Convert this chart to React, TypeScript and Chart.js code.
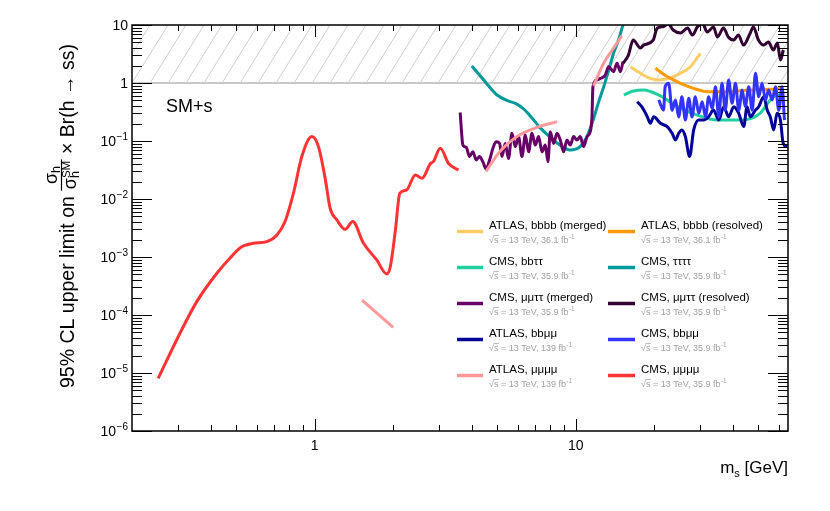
import { useEffect, useRef } from "react";
import { Chart, registerables } from "chart.js";

Chart.register(...registerables);

type P = [number, number];

const FONT = '"Liberation Sans", Arial, Helvetica, sans-serif';

// ---- axis ranges & tick labels ----
const X_MIN = 0.2;
const X_MAX = 65;
const Y_MIN = 1e-6;
const Y_MAX = 10;
const yTickExponents = [-6, -5, -4, -3, -2, -1, 0, 1];
const xTickValues = [1, 10];
const xTickLabels = ["1", "10"];

// ---- series (m_s [GeV], limit) ----
const atlasBbbbMerged: P[] = [
  [16.2, 1.91], [17.7, 1.47], [19.3, 1.2], [20.8, 1.13], [22.7, 1.2], [25.2, 1.47], [27.5, 1.91], [30.0, 3.25],
];
const atlasBbbbResolved: P[] = [
  [20.2, 1.79], [22.4, 1.29], [25.2, 0.99], [28.3, 0.81], [31.8, 0.71], [38.0, 0.71], [46.6, 0.76], [55.6, 0.78], [61.7, 0.81],
];
const cmsBbtautau: P[] = [
  [15.3, 0.62], [16.5, 0.72], [18.2, 0.76], [21.1, 0.6], [24.4, 0.4], [29.2, 0.28], [34.8, 0.23], [42.9, 0.23],
  [50.8, 0.3], [55.6, 0.51], [59.0, 0.62], [61.7, 0.62],
];
const cms4tau: P[] = [
  [4.0, 1.96], [4.3, 1.35], [4.68, 0.85], [5.0, 0.62], [5.45, 0.5], [5.9, 0.44], [6.3, 0.36], [6.7, 0.27],
  [7.3, 0.17], [8.0, 0.115], [8.7, 0.085], [9.5, 0.07], [10.4, 0.08], [11.05, 0.12], [11.7, 0.24], [12.2, 0.45],
  [12.8, 0.86], [13.4, 1.7], [13.96, 3.25], [14.6, 5.6], [15.1, 9.3], [15.4, 12],
];
const cmsMuMuTauTauMerged: P[] = [
  [3.61, 0.31], [3.70, 0.085], [3.81, 0.078], [3.92, 0.054], [4.04, 0.065], [4.16, 0.047], [4.28, 0.054],
  [4.41, 0.044], [4.54, 0.033], [4.68, 0.047], [4.82, 0.075], [4.96, 0.097], [5.11, 0.091], [5.22, 0.054],
  [5.37, 0.091], [5.53, 0.05], [5.70, 0.136], [5.87, 0.08], [6.04, 0.119], [6.23, 0.054], [6.41, 0.127],
  [6.60, 0.065], [6.80, 0.136], [7.00, 0.085], [7.21, 0.119], [7.43, 0.065], [7.65, 0.085], [7.83, 0.044],
  [7.99, 0.145], [8.23, 0.091], [8.48, 0.136], [8.73, 0.104], [8.99, 0.065], [9.26, 0.104], [9.53, 0.085],
  [9.82, 0.119], [10.11, 0.104], [10.41, 0.119], [10.72, 0.08], [11.05, 0.119], [11.37, 0.145], [11.54, 0.26],
  [11.64, 0.86], [12.06, 1.13], [12.42, 1.2], [12.98, 1.37], [13.37, 1.9], [13.97, 1.57], [14.39, 2.2],
  [14.82, 1.57], [15.18, 2.33],
];
const cmsMuMuTauTauResolved: P[] = [
  [15.2, 2.2], [15.9, 3.0], [16.6, 5.5], [17.7, 4.0], [18.2, 4.5], [19.8, 5.5], [20.5, 8.8], [21.7, 9.4],
  [22.6, 10.5], [23.6, 8.2], [25.2, 7.3], [26.8, 8.9], [28.0, 6.7], [29.2, 9.2], [30.6, 10.5], [31.9, 7.6],
  [33.7, 9.2], [34.9, 6.2], [36.8, 8.9], [38.4, 6.2], [40.2, 5.5], [42.0, 6.7], [43.9, 4.5], [46.6, 7.3],
  [47.9, 9.2], [50.1, 5.5], [52.3, 4.5], [54.7, 5.1], [57.1, 3.7], [59.2, 4.9], [60.8, 2.5], [62.4, 3.7],
];
const atlasBbmumu: P[] = [
  [17.2, 0.476], [17.9, 0.39], [18.8, 0.262], [19.3, 0.202], [19.9, 0.262], [21.1, 0.202], [22.4, 0.177],
  [23.4, 0.136], [24.1, 0.104], [24.8, 0.136], [25.5, 0.155], [26.3, 0.119], [27.3, 0.054], [28.3, 0.155],
  [29.6, 0.23], [30.9, 0.23], [32.3, 0.262], [33.7, 0.342], [35.3, 0.23], [36.9, 0.39], [38.5, 0.262],
  [40.3, 0.39], [42.1, 0.3], [44.0, 0.177], [45.3, 0.39], [46.6, 0.262], [48.8, 0.342], [50.2, 0.39],
  [52.5, 0.58], [54.1, 0.342], [55.6, 0.262], [57.3, 0.155], [59.0, 0.3], [60.8, 0.23], [62.3, 0.091], [64.5, 0.08],
];
const cmsBbmumu: P[] = [
  [20.8, 0.51], [21.7, 0.34], [22.0, 0.86], [22.7, 0.99], [23.4, 0.34], [24.1, 0.51], [24.8, 0.26], [25.5, 0.58],
  [26.3, 0.23], [27.1, 0.545], [27.9, 0.26], [28.7, 0.58], [29.6, 0.3], [30.5, 0.476], [31.4, 0.26], [32.3, 0.58],
  [33.3, 0.366], [34.3, 0.86], [35.3, 0.26], [36.3, 0.99], [37.4, 0.34], [38.5, 1.13], [39.7, 0.447], [40.9, 0.99],
  [42.1, 0.34], [43.4, 0.76], [44.6, 0.39], [46.0, 0.86], [47.4, 0.34], [48.8, 1.47], [50.2, 0.58], [51.7, 0.99],
  [53.3, 0.51], [54.8, 0.76], [56.5, 0.51], [58.2, 0.86], [59.9, 0.34], [61.7, 0.86], [63.0, 0.23],
];
const atlas4muLow: P[] = [[1.52, 1.8e-4], [2.0, 6.1e-5]];
const atlas4muMid: P[] = [[4.54, 0.03], [5.11, 0.065], [5.95, 0.119], [6.9, 0.164], [8.48, 0.216]];
const atlas4muHigh: P[] = [[11.7, 0.89], [12.8, 2.2], [13.8, 3.7], [15.0, 6.5]];
const cms4mu: P[] = [
  [0.252, 8.1e-6], [0.305, 4.8e-5], [0.354, 1.7e-4], [0.422, 5.2e-4], [0.474, 9.5e-4], [0.526, 1.5e-3],
  [0.583, 1.72e-3], [0.656, 1.84e-3], [0.718, 2.4e-3], [0.771, 4.1e-3], [0.83, 0.0125], [0.894, 0.054],
  [0.977, 0.119], [1.035, 0.08], [1.098, 0.0227], [1.148, 0.0069], [1.22, 4.3e-3], [1.31, 3.0e-3],
  [1.40, 4.1e-3], [1.54, 1.72e-3], [1.73, 8.9e-4], [1.89, 5.1e-4], [1.95, 6.8e-4], [2.04, 2.9e-3],
  [2.12, 0.0125], [2.25, 0.0143], [2.43, 0.026], [2.58, 0.0227], [2.78, 0.041], [2.85, 0.044],
  [3.03, 0.075], [3.26, 0.041], [3.56, 0.0316],
];

// ---- legend ----
const legendNames = [
  "ATLAS, bbbb (merged)", "ATLAS, bbbb (resolved)",
  "CMS, bb\u03c4\u03c4", "CMS, \u03c4\u03c4\u03c4\u03c4",
  "CMS, \u03bc\u03bc\u03c4\u03c4 (merged)", "CMS, \u03bc\u03bc\u03c4\u03c4 (resolved)",
  "ATLAS, bb\u03bc\u03bc", "CMS, bb\u03bc\u03bc",
  "ATLAS, \u03bc\u03bc\u03bc\u03bc", "CMS, \u03bc\u03bc\u03bc\u03bc",
];
const legendLumi = ["36.1", "36.1", "35.9", "35.9", "35.9", "35.9", "139", "35.9", "139", "35.9"];
const colors = [
  "#ffcc66", "#ff9900", "#1fd09e", "#009999", "#660066", "#330033", "#000099", "#3333ff", "#ff9999", "#ff3333",
];
const seriesByEntry: P[][][] = [
  [atlasBbbbMerged], [atlasBbbbResolved], [cmsBbtautau], [cms4tau],
  [cmsMuMuTauTauMerged], [cmsMuMuTauTauResolved], [atlasBbmumu], [cmsBbmumu],
  [atlas4muLow, atlas4muMid, atlas4muHigh], [cms4mu],
];

function drawPow(ctx: CanvasRenderingContext2D, e: number, xr: number, yb: number) {
  ctx.textAlign = "right";
  ctx.textBaseline = "alphabetic";
  if (e === 0 || e === 1) {
    ctx.font = `14px ${FONT}`;
    ctx.fillText(e === 0 ? "1" : "10", xr, yb);
    return;
  }
  ctx.font = `10px ${FONT}`;
  const sup = "\u2212" + String(-e);
  const sw = ctx.measureText(sup).width;
  ctx.fillText(sup, xr, yb - 6);
  ctx.font = `14px ${FONT}`;
  ctx.fillText("10", xr - sw - 0.5, yb);
}

const decor = {
  id: "decor",
  beforeDatasetsDraw(chart: any) {
    const { ctx, chartArea: a, scales } = chart;
    const y1 = scales.y.getPixelForValue(1);
    const y10 = scales.y.getPixelForValue(10);
    ctx.save();
    ctx.beginPath();
    ctx.rect(a.left, y10, a.right - a.left, y1 - y10);
    ctx.clip();
    ctx.strokeStyle = "#cfcfcf";
    ctx.lineWidth = 1;
    const h = y1 - y10;
    const dx = h * 0.62;
    for (let x = a.left - dx; x < a.right + dx; x += 18) {
      ctx.beginPath();
      ctx.moveTo(x, y1);
      ctx.lineTo(x + dx, y10);
      ctx.stroke();
    }
    ctx.restore();
    ctx.save();
    ctx.strokeStyle = "#c8c8c8";
    ctx.lineWidth = 2;
    ctx.beginPath();
    ctx.moveTo(a.left, y1);
    ctx.lineTo(a.right, y1);
    ctx.stroke();
    ctx.restore();
  },
  afterDraw(chart: any) {
    const { ctx, chartArea: a, scales } = chart;
    const xs = scales.x;
    const ys = scales.y;
    ctx.save();
    ctx.strokeStyle = "#000";
    ctx.fillStyle = "#000";
    // ticks
    ctx.lineWidth = 1;
    ctx.beginPath();
    for (let e = -7; e <= 1; e++) {
      for (let k = 1; k <= 9; k++) {
        const v = k * Math.pow(10, e);
        if (v < Y_MIN * 0.999 || v > Y_MAX * 1.001) continue;
        const p = Math.round(ys.getPixelForValue(v)) + 0.5;
        const len = k === 1 ? 20 : 10;
        ctx.moveTo(a.left, p);
        ctx.lineTo(a.left + len, p);
        ctx.moveTo(a.right, p);
        ctx.lineTo(a.right - len, p);
      }
    }
    for (let e = -1; e <= 1; e++) {
      for (let k = 1; k <= 9; k++) {
        const v = k * Math.pow(10, e);
        if (v <= X_MIN * 1.001 || v >= X_MAX) continue;
        const p = Math.round(xs.getPixelForValue(v)) + 0.5;
        const len = k === 1 ? 12 : 6;
        ctx.moveTo(p, a.bottom);
        ctx.lineTo(p, a.bottom - len);
        ctx.moveTo(p, a.top);
        ctx.lineTo(p, a.top + len);
      }
    }
    ctx.stroke();
    // frame
    ctx.lineWidth = 1.5;
    ctx.strokeRect(a.left, a.top, a.right - a.left, a.bottom - a.top);

    // y tick labels
    for (const e of yTickExponents) {
      const p = ys.getPixelForValue(Math.pow(10, e));
      drawPow(ctx, e, 128, p + 5);
    }
    // x tick labels
    ctx.font = `14px ${FONT}`;
    ctx.textAlign = "center";
    ctx.textBaseline = "alphabetic";
    xTickValues.forEach((v, i) => {
      ctx.fillText(xTickLabels[i], xs.getPixelForValue(v), 450);
    });

    // x title: m_s [GeV]
    ctx.textAlign = "left";
    ctx.font = `17px ${FONT}`;
    const tail = " [GeV]";
    const wTail = ctx.measureText(tail).width;
    const wm = ctx.measureText("m").width;
    ctx.font = `11px ${FONT}`;
    const ws = ctx.measureText("s").width;
    const x0 = a.right - wTail - ws - wm;
    ctx.font = `17px ${FONT}`;
    ctx.fillText("m", x0, 473);
    ctx.fillText(tail, x0 + wm + ws, 473);
    ctx.font = `11px ${FONT}`;
    ctx.fillText("s", x0 + wm, 477);

    // SM+s
    ctx.font = `18px ${FONT}`;
    ctx.fillText("SM+s", 166, 112);

    // y title (rotated)
    ctx.save();
    ctx.translate(74, 388);
    ctx.rotate(-Math.PI / 2);
    ctx.textAlign = "left";
    ctx.textBaseline = "alphabetic";
    ctx.font = `19.5px ${FONT}`;
    let u = 0;
    const t1 = "95% CL upper limit on ";
    ctx.fillText(t1, u, 0);
    u += ctx.measureText(t1).width;
    // fraction
    ctx.font = `18px ${FONT}`;
    const wSig = ctx.measureText("\u03c3").width;
    ctx.font = `12.5px ${FONT}`;
    const wh = ctx.measureText("h").width;
    ctx.font = `11.5px ${FONT}`;
    const wSM = ctx.measureText("SM").width;
    const numW = wSig + wh;
    const denW = wSig + Math.max(wh, wSM);
    const fw = Math.max(numW, denW) + 3;
    const nx = u + (fw - numW) / 2;
    ctx.font = `18px ${FONT}`;
    ctx.fillText("\u03c3", nx, -17.5);
    ctx.font = `12.5px ${FONT}`;
    ctx.fillText("h", nx + wSig, -14.5);
    const dxp = u + (fw - denW) / 2;
    ctx.font = `18px ${FONT}`;
    ctx.fillText("\u03c3", dxp, 1.5);
    ctx.font = `12.5px ${FONT}`;
    ctx.fillText("h", dxp + wSig, 5);
    ctx.font = `11.5px ${FONT}`;
    ctx.fillText("SM", dxp + wSig, -4);
    ctx.lineWidth = 1.2;
    ctx.beginPath();
    ctx.moveTo(u, -12.5);
    ctx.lineTo(u + fw, -12.5);
    ctx.stroke();
    u += fw;
    ctx.font = `19.5px ${FONT}`;
    ctx.fillText(" \u00d7 Br(h \u2192 ss)", u, 0);
    ctx.restore();

    // legend
    for (let i = 0; i < legendNames.length; i++) {
      const col = i % 2;
      const row = Math.floor(i / 2);
      const sx0 = col === 0 ? 457 : 608;
      const sx1 = col === 0 ? 483 : 635;
      const tx = col === 0 ? 489 : 641;
      const sy = 231.5 + 36 * row;
      ctx.strokeStyle = colors[i];
      ctx.lineWidth = 3.5;
      ctx.beginPath();
      ctx.moveTo(sx0, sy);
      ctx.lineTo(sx1, sy);
      ctx.stroke();
      ctx.fillStyle = "#000";
      ctx.font = `11.5px ${FONT}`;
      ctx.textAlign = "left";
      ctx.fillText(legendNames[i], tx, 228.5 + 36 * row);
      // subtitle
      const by = 243 + 36 * row;
      ctx.fillStyle = "#a0a0a0";
      ctx.strokeStyle = "#a0a0a0";
      ctx.font = `9px ${FONT}`;
      ctx.fillText("\u221a", tx, by);
      const wr = ctx.measureText("\u221a").width;
      ctx.fillText("s", tx + wr, by);
      const wss = ctx.measureText("s").width;
      ctx.lineWidth = 0.7;
      ctx.beginPath();
      ctx.moveTo(tx + wr - 0.5, by - 7.5);
      ctx.lineTo(tx + wr + wss + 0.5, by - 7.5);
      ctx.stroke();
      const rest = ` = 13 TeV, ${legendLumi[i]} fb`;
      ctx.fillText(rest, tx + wr + wss, by);
      const wrest = ctx.measureText(rest).width;
      ctx.font = `6.5px ${FONT}`;
      ctx.fillText("-1", tx + wr + wss + wrest + 0.5, by - 4.5);
    }
    ctx.restore();
  },
};

export default function App() {
  const ref = useRef<HTMLCanvasElement | null>(null);
  useEffect(() => {
    if (!ref.current) return;
    const datasets: any[] = [];
    seriesByEntry.forEach((segs, i) => {
      segs.forEach((seg) => {
        datasets.push({
          data: seg.map(([x, y]) => ({ x, y })),
          borderColor: colors[i],
          backgroundColor: colors[i],
          borderWidth: 3,
          pointRadius: 0,
          fill: false,
          cubicInterpolationMode: "monotone",
          clip: 0,
        });
      });
    });
    datasets.reverse();
    const chart = new Chart(ref.current, {
      type: "line",
      data: { datasets },
      options: {
        responsive: false,
        animation: false,
        devicePixelRatio: 1,
        layout: { padding: { left: 132, right: 42, top: 25, bottom: 80 } },
        plugins: { legend: { display: false }, tooltip: { enabled: false } },
        scales: {
          x: { type: "logarithmic", min: X_MIN, max: X_MAX, display: false },
          y: { type: "logarithmic", min: Y_MIN, max: Y_MAX, display: false },
        },
      },
      plugins: [decor],
    } as any);
    return () => chart.destroy();
  }, []);
  return (
    <div style={{ position: "absolute", left: 0, top: 0, width: 830, height: 511, background: "#fff" }}>
      <canvas ref={ref} width={830} height={511} style={{ display: "block" }} />
    </div>
  );
}
